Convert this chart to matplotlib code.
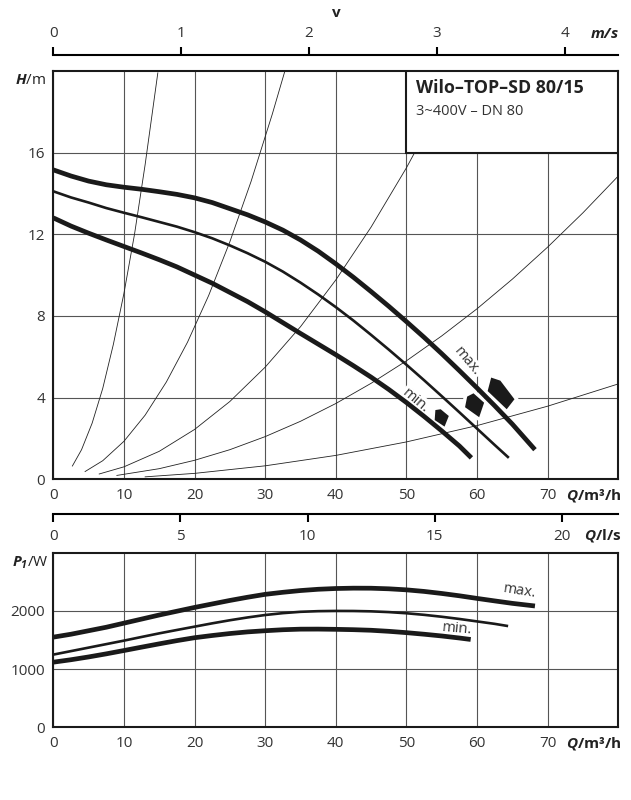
import matplotlib
matplotlib.use("Agg")
import matplotlib.pyplot as plt
from matplotlib.patches import Rectangle

plt.rcParams['font.family'] = ['Open Sans', 'DejaVu Sans']
plt.rcParams['mathtext.fontset'] = 'custom'
plt.rcParams['mathtext.bfit'] = 'Open Sans:italic:bold'
plt.rcParams['mathtext.rm'] = 'Open Sans'

# ---- data: head curves H(Q) ----
q_max = [0, 2.5, 5, 7.5, 10, 12.5, 15, 17.5, 20, 22.5, 25, 27.5, 30, 32.5, 35, 37.5,
         40, 42.5, 45, 47.5, 50, 52.5, 55, 57.5, 60, 62.5, 65, 68.2]
h_max = [15.15, 14.85, 14.6, 14.42, 14.3, 14.2, 14.08, 13.95, 13.78, 13.55, 13.25, 12.95,
         12.6, 12.2, 11.72, 11.17, 10.55, 9.89, 9.19, 8.47, 7.72, 6.95, 6.15, 5.32, 4.47,
         3.6, 2.7, 1.45]
q_mid = [0, 2.5, 5, 7.5, 10, 12.5, 15, 17.5, 20, 22.5, 25, 27.5, 30, 32.5, 35, 37.5,
         40, 42.5, 45, 47.5, 50, 52.5, 55, 57.5, 60, 62.5, 64.5]
h_mid = [14.1, 13.8, 13.55, 13.28, 13.05, 12.83, 12.6, 12.37, 12.1, 11.8, 11.45, 11.07,
         10.65, 10.17, 9.63, 9.05, 8.43, 7.77, 7.07, 6.35, 5.61, 4.85, 4.07, 3.28, 2.48,
         1.68, 1.05]
q_min = [0, 2.5, 5, 7.5, 10, 12.5, 15, 17.5, 20, 22.5, 25, 27.5, 30, 32.5, 35, 37.5,
         40, 42.5, 45, 47.5, 50, 52.5, 55, 57.5, 59.2]
h_min = [12.8, 12.4, 12.05, 11.72, 11.4, 11.08, 10.75, 10.4, 10.0, 9.6, 9.15, 8.7,
         8.2, 7.67, 7.14, 6.62, 6.1, 5.56, 5.0, 4.4, 3.76, 3.08, 2.37, 1.63, 1.05]

# system (pipe) curves
sys_q = [
    [2.7, 4, 5.5, 7, 8.5, 10, 11.5, 13, 14.8],
    [4.5, 7, 10, 13, 16, 19, 22, 25, 28, 31, 32.8],
    [6.5, 10, 15, 20, 25, 30, 35, 40, 45, 50, 55, 57.3],
    [9, 15, 20, 25, 30, 35, 40, 45, 50, 55, 60, 65, 70, 75, 80],
    [13, 20, 30, 40, 50, 60, 70, 80],
]
sys_h = [
    [0.65, 1.45, 2.75, 4.45, 6.6, 9.1, 12.0, 15.4, 19.9],
    [0.38, 0.91, 1.86, 3.14, 4.76, 6.71, 9.0, 11.63, 14.58, 17.87, 20.0],
    [0.26, 0.61, 1.37, 2.44, 3.81, 5.49, 7.47, 9.76, 12.35, 15.25, 18.45, 20.0],
    [0.19, 0.52, 0.93, 1.45, 2.09, 2.84, 3.71, 4.70, 5.80, 7.02, 8.35, 9.80, 11.37, 13.05, 14.85],
    [0.12, 0.29, 0.66, 1.17, 1.83, 2.63, 3.58, 4.67],
]

# best-efficiency markers (Q, H corners)
mark_max_q = [62.0, 63.3, 65.3, 64.2, 61.5]
mark_max_h = [4.98, 4.83, 3.92, 3.43, 4.32]
mark_mid_q = [58.6, 59.5, 61.0, 60.3, 58.3]
mark_mid_h = [4.05, 4.21, 3.75, 3.04, 3.53]
mark_min_q = [54.1, 54.85, 56.0, 55.4, 54.0]
mark_min_h = [3.39, 3.43, 3.1, 2.58, 2.9]

# ---- data: power curves P1(Q) ----
pq_max = [0, 2.5, 5, 7.5, 10, 12.5, 15, 17.5, 20, 22.5, 25, 27.5, 30, 32.5, 35, 37.5,
          40, 42.5, 45, 47.5, 50, 52.5, 55, 57.5, 60, 62.5, 65, 68.2]
p_max = [1550, 1600, 1660, 1720, 1790, 1860, 1930, 1995, 2060, 2120, 2180, 2235, 2285,
         2320, 2350, 2372, 2385, 2391, 2390, 2380, 2362, 2335, 2300, 2260, 2215, 2172, 2130, 2085]
pq_mid = [0, 2.5, 5, 7.5, 10, 12.5, 15, 17.5, 20, 22.5, 25, 27.5, 30, 32.5, 35, 37.5,
          40, 42.5, 45, 47.5, 50, 52.5, 55, 57.5, 60, 62.5, 64.4]
p_mid = [1250, 1310, 1370, 1430, 1490, 1553, 1615, 1673, 1730, 1787, 1840, 1888, 1930,
         1962, 1985, 1996, 2000, 1999, 1993, 1980, 1960, 1933, 1900, 1862, 1820, 1778, 1740]
pq_min = [0, 2.5, 5, 7.5, 10, 12.5, 15, 17.5, 20, 22.5, 25, 27.5, 30, 32.5, 35, 37.5,
          40, 42.5, 45, 47.5, 50, 52.5, 55, 57.5, 59.1]
p_min = [1120, 1162, 1210, 1263, 1320, 1378, 1435, 1490, 1540, 1578, 1612, 1640, 1660,
         1677, 1687, 1688, 1684, 1678, 1668, 1650, 1627, 1600, 1570, 1535, 1510]

q_ticks = [0, 10, 20, 30, 40, 50, 60, 70]
h_ticks = [0, 4, 8, 12, 16]
p_ticks = [0, 1000, 2000]
v_ticks = [0, 1, 2, 3, 4]
ls_ticks = [0, 5, 10, 15, 20]

M3H_PER_MS = 18.1   # DN 80
M3H_PER_LS = 3.6

W, H = 631, 800
fig = plt.figure(figsize=(W / 100, H / 100), dpi=100)

def px(x, y):
    return x / W, 1 - y / H

grid_c = '#555555'
txt_c = '#333333'
ink = '#1a1a1a'
left, right = 53.3, 618.3
TICK_FS = 11

def style_main(ax):
    for s in ax.spines.values():
        s.set_linewidth(1.5)
        s.set_color(ink)
    ax.set_xlim(0, 80)
    ax.set_xticks(q_ticks)
    ax.tick_params(length=0, labelsize=TICK_FS, labelcolor=txt_c, pad=6)
    ax.grid(True, color=grid_c, lw=0.8, zorder=0)
    ax.set_axisbelow(True)

# ---- upper plot ----
ax1 = fig.add_axes([left / W, 1 - 479.3 / H, (right - left) / W, (479.3 - 70.8) / H])
style_main(ax1)
ax1.set_ylim(0, 20)
ax1.set_yticks(h_ticks)

for qs, hs in zip(sys_q, sys_h):
    ax1.plot(qs, hs, color='#222222', lw=0.6, zorder=2)

ax1.plot(q_max, h_max, color=ink, lw=3.4, solid_capstyle='butt', zorder=4)
ax1.plot(q_mid, h_mid, color=ink, lw=1.9, solid_capstyle='butt', zorder=4)
ax1.plot(q_min, h_min, color=ink, lw=3.4, solid_capstyle='butt', zorder=4)

for mq, mh in [(mark_max_q, mark_max_h), (mark_mid_q, mark_mid_h), (mark_min_q, mark_min_h)]:
    ax1.fill(mq, mh, facecolor=ink, edgecolor='white', lw=5, zorder=3)
    ax1.fill(mq, mh, facecolor=ink, edgecolor='none', zorder=3.5)

ax1.text(58.6, 5.75, 'max.', rotation=-50, ha='center', va='center', fontsize=10.5,
         color=txt_c, rotation_mode='anchor', zorder=3,
         bbox=dict(facecolor='white', edgecolor='none', pad=1))
ax1.text(51.3, 3.85, 'min.', rotation=-40, ha='center', va='center', fontsize=10.5,
         color=txt_c, rotation_mode='anchor', zorder=3,
         bbox=dict(facecolor='white', edgecolor='none', pad=1))

ax1.add_patch(Rectangle((50, 16), 30, 4, facecolor='white', edgecolor=ink,
                        lw=1.5, zorder=5))
ax1.text(51.3, 19.15, 'Wilo–TOP–SD 80/15', fontsize=12.8, fontweight='bold',
         color='#222222', va='center', ha='left', zorder=6)
ax1.text(51.3, 18.0, '3~400V – DN 80', fontsize=10.5, color=txt_c,
         va='center', ha='left', zorder=6)

# ---- velocity scale ----
axv = fig.add_axes([left / W, 1 - 55 / H, (right - left) / W, 0.0001])
axv.set_xlim(0, 80 / M3H_PER_MS)
axv.set_xticks(v_ticks)
axv.set_yticks([])
for k in ['left', 'right', 'bottom']:
    axv.spines[k].set_visible(False)
axv.spines['top'].set_linewidth(1.5)
axv.patch.set_visible(False)
axv.tick_params(axis='x', top=True, bottom=False, labeltop=True, labelbottom=False,
                direction='out', length=6, width=1.5, pad=4, labelsize=TICK_FS, labelcolor=txt_c)

# ---- l/s scale ----
axl = fig.add_axes([left / W, 1 - 514.3 / H, (right - left) / W, 0.0001])
axl.set_xlim(0, 80 / M3H_PER_LS)
axl.set_xticks(ls_ticks)
axl.set_yticks([])
for k in ['left', 'right', 'top']:
    axl.spines[k].set_visible(False)
axl.spines['bottom'].set_linewidth(1.5)
axl.patch.set_visible(False)
axl.tick_params(axis='x', direction='out', length=5.5, width=1.5, pad=5,
                labelsize=TICK_FS, labelcolor=txt_c)

# ---- lower plot ----
ax2 = fig.add_axes([left / W, 1 - 727.4 / H, (right - left) / W, (727.4 - 552.7) / H])
style_main(ax2)
ax2.set_ylim(0, 3000)
ax2.set_yticks(p_ticks)
ax2.plot(pq_max, p_max, color=ink, lw=3.4, solid_capstyle='butt', zorder=4)
ax2.plot(pq_mid, p_mid, color=ink, lw=1.9, solid_capstyle='butt', zorder=4)
ax2.plot(pq_min, p_min, color=ink, lw=3.4, solid_capstyle='butt', zorder=4)
ax2.text(66.0, 2340, 'max.', rotation=-9, ha='center', va='center', fontsize=10.5, color=txt_c)
ax2.text(57.2, 1700, 'min.', rotation=-5, ha='center', va='center', fontsize=10.5, color=txt_c)

# ---- unit labels ----
fig.text(*px(336, 13), 'v', ha='center', va='center', fontsize=11, fontweight='bold', color='#222222')
fig.text(*px(605, 35), r'$\mathbfit{m/s}$', ha='center', va='center', fontsize=11, color='#222222')
fig.text(*px(31, 80), r'$\mathbfit{H}$/m', ha='center', va='center', fontsize=11, color='#222222')
fig.text(*px(594, 496), r'$\mathbfit{Q}$/m³/h', ha='center', va='center', fontsize=11,
         fontweight='bold', color='#222222')
fig.text(*px(603, 536), r'$\mathbfit{Q}$/l/s', ha='center', va='center', fontsize=11,
         fontweight='bold', color='#222222')
fig.text(*px(30, 563), r'$\mathbfit{P_1}$/W', ha='center', va='center', fontsize=11, color='#222222')
fig.text(*px(594, 743), r'$\mathbfit{Q}$/m³/h', ha='center', va='center', fontsize=11,
         fontweight='bold', color='#222222')

fig.savefig('out.png', dpi=100)
